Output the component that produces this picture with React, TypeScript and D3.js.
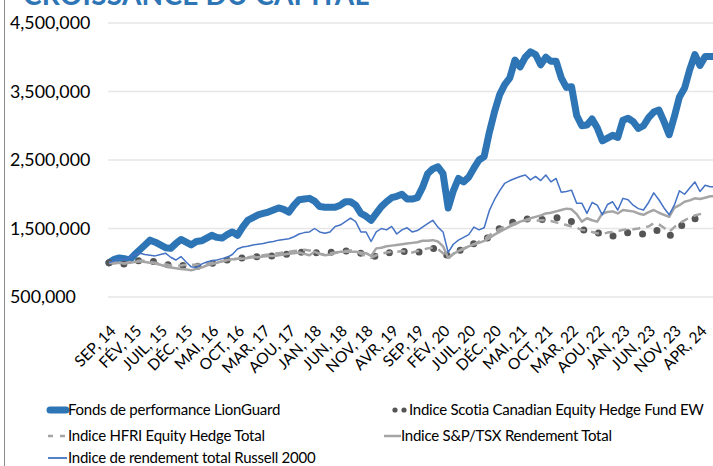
import React from "react";
import * as d3 from "d3";

const W = 713;
const H = 466;
const UNIT = 1000000;
const FONT = "Lato, 'Open Sans', sans-serif";

// x tick labels, one every 5 months starting SEP 2014
const tickLabels = [
  "SEP, 14", "FÉV, 15", "JUIL, 15", "DÉC, 15", "MAI, 16", "OCT, 16",
  "MAR, 17", "AOU, 17", "JAN, 18", "JUN, 18", "NOV, 18", "AVR, 19",
  "SEP, 19", "FÉV, 20", "JUIL, 20", "DÉC, 20", "MAI, 21", "OCT, 21",
  "MAR, 22", "AOU, 22", "JAN, 23", "JUN, 23", "NOV, 23", "APR, 24",
];
const yTicks = [500000, 1500000, 2500000, 3500000, 4500000];

// monthly values in millions, from SEP 2014
const lionGuard = [
  1.0, 1.05, 1.07, 1.06, 1.04, 1.12, 1.19, 1.26, 1.33, 1.3,
  1.26, 1.22, 1.21, 1.28, 1.34, 1.3, 1.26, 1.31, 1.32, 1.36,
  1.4, 1.37, 1.36, 1.41, 1.45, 1.4, 1.52, 1.62, 1.66, 1.7,
  1.72, 1.74, 1.77, 1.8, 1.78, 1.74, 1.84, 1.92, 1.93, 1.94,
  1.9, 1.82, 1.81, 1.81, 1.81, 1.84, 1.89, 1.89, 1.84, 1.72,
  1.68, 1.62, 1.72, 1.82, 1.89, 1.95, 1.97, 2.0, 1.93, 1.93,
  1.95, 2.1, 2.3, 2.37, 2.4, 2.3, 1.8, 2.05, 2.23, 2.18,
  2.25, 2.38, 2.5, 2.55, 2.9, 3.2, 3.45, 3.6, 3.7, 3.96,
  3.86, 4.0, 4.08, 4.04, 3.89, 4.0, 3.94, 3.94, 3.7, 3.56,
  3.57, 3.15, 3.0, 3.01, 3.1, 2.97, 2.78, 2.82, 2.86, 2.83,
  3.08, 3.11, 3.06, 2.96, 3.0, 3.12, 3.2, 3.23, 3.06, 2.87,
  3.13, 3.42, 3.55, 3.82, 4.04, 3.88, 4.01, 4.01, 4.01,
];
const scotia = [
  1.0, 0.99, 0.99, 0.98, 1.0, 1.02, 1.03, 1.03, 1.02, 1.02,
  1.0, 0.98, 0.96, 0.96, 0.96, 0.96, 0.95, 0.95, 0.95, 0.97,
  0.99, 1.0, 1.02, 1.04, 1.06, 1.06, 1.07, 1.07, 1.08, 1.09,
  1.09, 1.1, 1.1, 1.1, 1.12, 1.13, 1.14, 1.15, 1.16, 1.16,
  1.15, 1.14, 1.14, 1.15, 1.16, 1.17, 1.17, 1.17, 1.17, 1.14,
  1.11, 1.08, 1.1, 1.12, 1.14, 1.15, 1.17, 1.17, 1.16, 1.15,
  1.15, 1.17, 1.19, 1.21, 1.2, 1.15, 1.1, 1.14, 1.17, 1.21,
  1.25, 1.28, 1.31, 1.33, 1.38, 1.44, 1.5, 1.54, 1.58, 1.6,
  1.62, 1.64, 1.64, 1.63, 1.63, 1.64, 1.65, 1.66, 1.65, 1.63,
  1.6, 1.55, 1.49, 1.46, 1.45, 1.44, 1.42, 1.4, 1.39, 1.41,
  1.43, 1.44, 1.43, 1.42, 1.42, 1.44, 1.47, 1.47, 1.43, 1.39,
  1.44, 1.52, 1.57, 1.61, 1.64, 1.66,
];
const hfri = [
  1.0, 1.0, 1.0, 0.99, 1.01, 1.02, 1.03, 1.03, 1.01, 1.0,
  0.99, 0.98, 0.96, 0.95, 0.96, 0.97, 0.97, 0.97, 0.98, 0.99,
  1.0, 1.01, 1.02, 1.04, 1.05, 1.06, 1.07, 1.08, 1.09, 1.1,
  1.11, 1.12, 1.13, 1.14, 1.15, 1.16, 1.17, 1.18, 1.19, 1.18,
  1.16, 1.13, 1.12, 1.14, 1.15, 1.16, 1.17, 1.18, 1.17, 1.13,
  1.1, 1.07, 1.11, 1.13, 1.15, 1.16, 1.16, 1.17, 1.16, 1.15,
  1.17, 1.19, 1.21, 1.22, 1.2, 1.14, 1.06, 1.13, 1.17, 1.2,
  1.24, 1.27, 1.31, 1.34, 1.4, 1.45, 1.49, 1.53, 1.55, 1.58,
  1.6, 1.62, 1.62, 1.61, 1.62, 1.62, 1.61, 1.59, 1.57, 1.55,
  1.53, 1.51, 1.48, 1.47, 1.45, 1.43, 1.42, 1.44, 1.45, 1.46,
  1.48, 1.49, 1.49, 1.5, 1.52, 1.53, 1.58, 1.56, 1.51, 1.45,
  1.52, 1.58, 1.62, 1.66, 1.69, 1.71, 1.73,
];
const tsx = [
  1.0, 0.99, 1.0, 0.99, 1.0, 1.01, 1.02, 1.01, 1.0, 0.99,
  0.97, 0.95, 0.93, 0.92, 0.91, 0.9, 0.89, 0.91, 0.93, 0.96,
  0.98, 1.0, 1.02, 1.04, 1.05, 1.06, 1.06, 1.07, 1.08, 1.08,
  1.09, 1.1, 1.1, 1.11, 1.12, 1.13, 1.14, 1.15, 1.13, 1.11,
  1.16, 1.13, 1.11, 1.12, 1.14, 1.16, 1.16, 1.16, 1.16, 1.15,
  1.14, 1.1, 1.21, 1.22, 1.24, 1.25, 1.26, 1.27, 1.28, 1.29,
  1.3, 1.32, 1.32, 1.33, 1.31, 1.24, 1.07, 1.13, 1.17, 1.21,
  1.24, 1.27, 1.29, 1.32, 1.36, 1.41, 1.45, 1.49, 1.53, 1.56,
  1.6, 1.62, 1.65, 1.67, 1.69, 1.72, 1.73, 1.75, 1.77, 1.79,
  1.78, 1.71, 1.6, 1.65, 1.62, 1.6, 1.72, 1.74, 1.75, 1.72,
  1.77, 1.76, 1.75, 1.72, 1.7, 1.74, 1.77, 1.73, 1.7, 1.67,
  1.8, 1.84, 1.89, 1.91, 1.94, 1.93, 1.95, 1.97, 1.97,
];
const russell = [
  1.0, 1.03, 1.06, 1.04, 1.08, 1.12, 1.14, 1.12, 1.11, 1.1,
  1.12, 1.14, 1.08, 1.04, 1.09, 1.01, 0.94, 0.93, 0.98, 1.01,
  1.03, 1.04, 1.06, 1.08, 1.12, 1.2, 1.23, 1.24, 1.26, 1.27,
  1.28, 1.3, 1.31, 1.33, 1.34, 1.35, 1.38, 1.42, 1.44, 1.45,
  1.5, 1.45, 1.43, 1.45, 1.53, 1.55, 1.6, 1.65, 1.6, 1.45,
  1.45, 1.31, 1.45, 1.5, 1.48, 1.53, 1.42, 1.48, 1.51, 1.45,
  1.47, 1.52, 1.57, 1.62, 1.52, 1.45, 1.15, 1.27, 1.33, 1.37,
  1.41, 1.52, 1.48, 1.51, 1.76, 1.92, 2.05, 2.16, 2.2, 2.23,
  2.26, 2.28, 2.21, 2.26, 2.2, 2.28, 2.18, 2.23, 2.03, 2.04,
  2.06, 1.87, 1.87, 1.72, 1.88, 1.84, 1.7, 1.85, 1.89, 1.77,
  1.94, 1.92, 1.84, 1.79, 1.77, 1.88, 2.02, 1.92, 1.8, 1.7,
  1.84, 2.05, 2.0, 2.09, 2.18, 2.04, 2.13, 2.11, 2.11,
];

const seriesNames = [
  "Fonds de performance LionGuard",
  "Indice Scotia Canadian Equity Hedge Fund EW",
  "Indice HFRI Equity Hedge Total",
  "Indice S&P/TSX Rendement Total",
  "Indice de rendement total Russell 2000",
];

const x = d3.scaleLinear().domain([0, 115]).range([109, 700]);
const y = d3.scaleLinear().domain([500000, 4500000]).range([297, 23]);

const line = d3
  .line<number>()
  .x((_, i) => x(i))
  .y((d) => y(d * UNIT));

const fmt = d3.format(",");

const App = () => {
  return (
    <svg
      width={W}
      height={H}
      style={{ position: "absolute", left: 0, top: 0, background: "#fff" }}
      fontFamily={FONT}
    >
      <text x={23} y={5} fontSize={28} fontWeight="bold" fill="#2e75b6" textLength={346}>
        CROISSANCE DU CAPITAL
      </text>
      <line x1={4.5} x2={4.5} y1={0} y2={H} stroke="#8c8c8c" />

      {yTicks.map((t) => (
        <g key={t}>
          <line x1={108} x2={W} y1={y(t)} y2={y(t)} stroke="#e6e6e6" strokeWidth={1.3} />
          <text x={10} y={y(t)} dy="0.36em" fontSize={17.8} fill="#000">
            {fmt(t)}
          </text>
        </g>
      ))}

      {tickLabels.map((lab, i) => (
        <text
          key={lab}
          transform={`translate(${x(i * 5) + 4},${328}) rotate(-45)`}
          textAnchor="end"
          dy="0.35em"
          fontSize={15.5}
          fill="#000"
        >
          {lab}
        </text>
      ))}

      <path d={line(lionGuard) || ""} fill="none" stroke="#2e75b6" strokeWidth={7} strokeLinejoin="round" strokeLinecap="round" />
      <path d={line(scotia) || ""} fill="none" stroke="#555" strokeWidth={7} strokeLinecap="round" strokeDasharray="0 15" />
      <path d={line(hfri) || ""} fill="none" stroke="#a5a5a5" strokeWidth={2.5} strokeDasharray="8 6" strokeLinejoin="round" />
      <path d={line(tsx) || ""} fill="none" stroke="#a5a5a5" strokeWidth={2.5} strokeLinejoin="round" />
      <path d={line(russell) || ""} fill="none" stroke="#4472c4" strokeWidth={1.5} strokeLinejoin="round" />

      {/* legend */}
      <g fontSize={15} letterSpacing={-0.25} fill="#000">
        <line x1={50} x2={66} y1={410} y2={410} stroke="#2e75b6" strokeWidth={7} strokeLinecap="round" />
        <text x={68} y={410} dy="0.35em">{seriesNames[0]}</text>

        <circle cx={395} cy={410} r={2.6} fill="#555" />
        <circle cx={404} cy={410} r={2.6} fill="#555" />
        <text x={409} y={410} dy="0.35em">{seriesNames[1]}</text>

        <line x1={48} x2={67} y1={436} y2={436} stroke="#a5a5a5" strokeWidth={2.5} strokeDasharray="5 7" />
        <text x={68} y={436} dy="0.35em">{seriesNames[2]}</text>

        <line x1={384} x2={401} y1={436} y2={436} stroke="#a5a5a5" strokeWidth={2.5} />
        <text x={401} y={436} dy="0.35em">{seriesNames[3]}</text>

        <line x1={48} x2={67} y1={458} y2={458} stroke="#4472c4" strokeWidth={1.8} />
        <text x={68} y={458} dy="0.35em">{seriesNames[4]}</text>
      </g>
    </svg>
  );
};

export default App;
